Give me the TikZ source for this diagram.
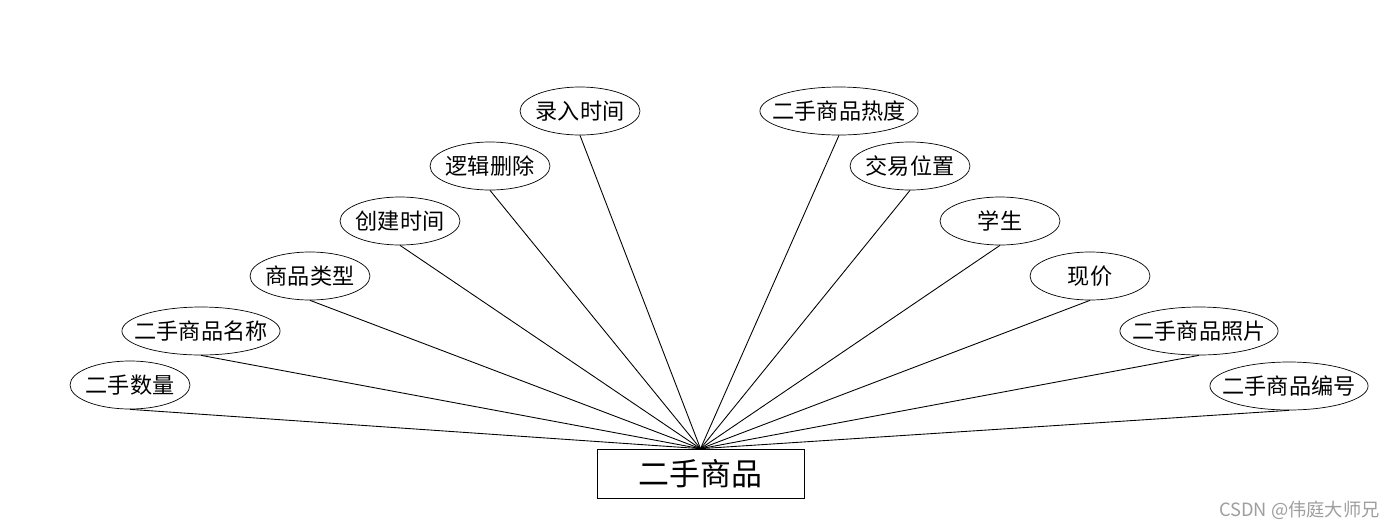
\documentclass[tikz,border=0pt]{standalone}
\usepackage{fontspec}
\usepackage{xcolor}
\usepackage{tikz}
\usetikzlibrary{positioning, shapes.geometric}
\setmainfont{Noto Sans CJK SC}
\definecolor{eInk}{HTML}{000000}
\definecolor{eMark}{HTML}{9E9E9E}

\begin{document}
\begin{tikzpicture}[x=0.02cm, y=-0.02cm,
        attr/.style={draw=eInk, ellipse, inner xsep=-0.05cm, inner ysep=0pt, minimum width=2.4cm,
          minimum height=0.96cm, font=\fontsize{12.6}{14}\selectfont},
        wide/.style={inner xsep=-0.21cm, minimum width=3.16cm},
        ent/.style={draw=eInk, rectangle, inner sep=0pt, minimum width=4.14cm, minimum height=0.98cm,
          font=\fontsize{17.6}{20}\selectfont},
        link/.style={draw=eInk, line width=0.5pt}]
      \useasboundingbox (0,0) rectangle (1400,528);
      \node[ent] (goods) at (700.5,473.5) {二手商品};
      % left side
      \node[attr] (qty) at (130,385) {二手数量};
      \node[attr, wide] (name) at (201,331) {二手商品名称};
      \node[attr] (type) at (310,276) {商品类型};
      \node[attr] (ctime) at (400,221) {创建时间};
      \node[attr] (del) at (490,166) {逻辑删除};
      \node[attr] (rtime) at (580,111) {录入时间};
      % right side
      \node[attr, wide] (heat) at (839,111) {二手商品热度};
      \node[attr] (place) at (910,166) {交易位置};
      \node[attr] (stu) at (1000,221) {学生};
      \node[attr] (price) at (1090,276) {现价};
      \node[attr, wide] (photo) at (1199,331) {二手商品照片};
      \node[attr, wide] (code) at (1289,386) {二手商品编号};
      \foreach \a in {qty,name,type,ctime,del,rtime,heat,place,stu,price,photo,code}
        \draw[link] (\a.south) -- (goods.north);
      \node[text=eMark, anchor=east, font=\fontsize{10.4}{12}\selectfont] (mark) at (1386,510) {CSDN @伟庭大师兄};
    \end{tikzpicture}
\end{document}
